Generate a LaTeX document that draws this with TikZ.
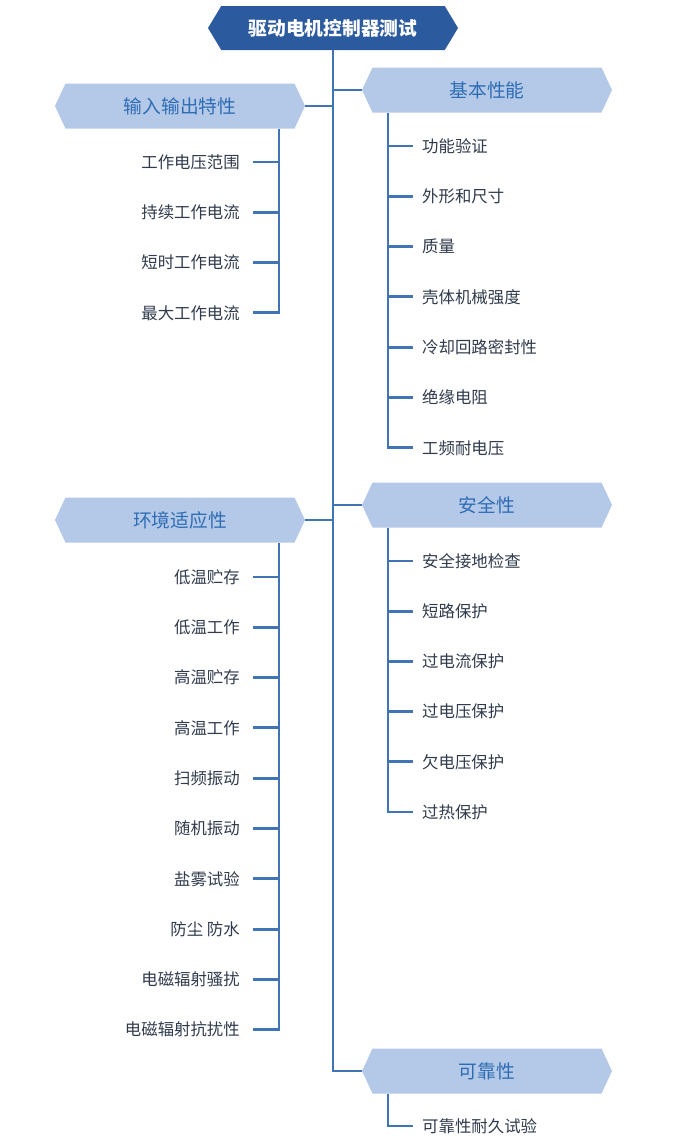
\documentclass[tikz,border=0pt]{standalone}
\usepackage{fontspec}
\setmainfont{Noto Sans CJK SC}
\usetikzlibrary{shapes.symbols}
\definecolor{titleblue}{HTML}{2C5A9E}
\definecolor{boxblue}{HTML}{B4C8E8}
\definecolor{labelblue}{HTML}{2E6DB4}
\definecolor{linkblue}{HTML}{4174B5}
\definecolor{leafgray}{HTML}{2F3A4C}
\tikzset{
  hexbox/.style={shape=signal, signal to=west and east, signal pointer angle=130,
                 fill=boxblue, text=labelblue, minimum width=7.5cm, minimum height=1.35cm,
                 inner sep=0pt, font=\fontsize{16}{18}\selectfont},
  hextitle/.style={hexbox, fill=titleblue, text=white, signal pointer angle=118,
                   minimum height=1.32cm, font=\bfseries\fontsize{16}{18}\selectfont},
  leafL/.style={anchor=east, text=leafgray, inner sep=0pt, font=\fontsize{14}{16}\selectfont},
  leafR/.style={leafL, anchor=west},
  ln/.style={linkblue, line width=2.5pt},
}
\begin{document}
\begin{tikzpicture}[x=0.03cm,y=-0.03cm]
  \useasboundingbox (0,0) rectangle (693,1143);
  % title, groups and main spine
  \node[hextitle] (title) at (333,28) {驱动电机控制器测试};
  \node[hexbox] (io) at (180,106) {输入输出特性};
  \node[hexbox] (bj) at (487,90) {基本性能};
  \node[hexbox] (env) at (180,520) {环境适应性};
  \node[hexbox] (safe) at (487,505) {安全性};
  \node[hexbox] (rel) at (487,1071) {可靠性};
  \draw[ln] (title.south) |- (rel.west);
  \draw[ln] (io.east) -- (io.east -| title.south);
  \draw[ln] (env.east) -- (env.east -| title.south);
  \draw[ln] (bj.west) -- (bj.west -| title.south);
  \draw[ln] (safe.west) -- (safe.west -| title.south);
  % left side leaves
  \coordinate (spL) at (279,0);
  \foreach \t [count=\i] in {工作电压范围,持续工作电流,短时工作电流,最大工作电流}
    \node[leafL] (io\i) at (240,{162+50.3*(\i-1)}) {\t};
  \draw[ln] (io.south -| spL) |- ([xshift=0.39cm]io4.east);
  \foreach \i in {1,...,3}
    \draw[ln] ([xshift=0.39cm]io\i.east) -- (io\i.east -| spL);
  \foreach \t [count=\i] in {低温贮存,低温工作,高温贮存,高温工作,扫频振动,随机振动,盐雾试验,防尘 防水,电磁辐射骚扰,电磁辐射抗扰性}
    \node[leafL] (env\i) at (240,{577+50.3*(\i-1)}) {\t};
  \draw[ln] (env.south -| spL) |- ([xshift=0.39cm]env10.east);
  \foreach \i in {1,...,9}
    \draw[ln] ([xshift=0.39cm]env\i.east) -- (env\i.east -| spL);
  % right side leaves
  \coordinate (spR) at (388,0);
  \foreach \t [count=\i] in {功能验证,外形和尺寸,质量,壳体机械强度,冷却回路密封性,绝缘电阻,工频耐电压}
    \node[leafR] (bj\i) at (422,{146+50.3*(\i-1)}) {\t};
  \draw[ln] (bj.south -| spR) |- ([xshift=-0.27cm]bj7.west);
  \foreach \i in {1,...,6}
    \draw[ln] ([xshift=-0.27cm]bj\i.west) -- (bj\i.west -| spR);
  \foreach \t [count=\i] in {安全接地检查,短路保护,过电流保护,过电压保护,欠电压保护,过热保护}
    \node[leafR] (safe\i) at (422,{561+50.2*(\i-1)}) {\t};
  \draw[ln] (safe.south -| spR) |- ([xshift=-0.27cm]safe6.west);
  \foreach \i in {1,...,5}
    \draw[ln] ([xshift=-0.27cm]safe\i.west) -- (safe\i.west -| spR);
  \node[leafR] (rel1) at (422,1126) {可靠性耐久试验};
  \draw[ln] (rel.south -| spR) |- ([xshift=-0.27cm]rel1.west);
\end{tikzpicture}
\end{document}
